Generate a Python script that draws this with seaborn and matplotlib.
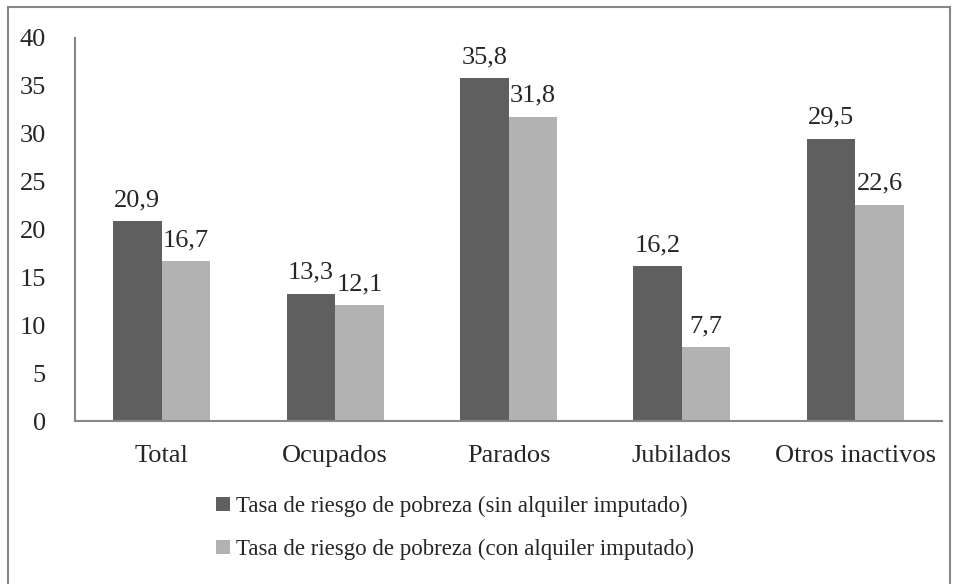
import matplotlib
matplotlib.use("Agg")
import matplotlib.pyplot as plt
import seaborn as sns
import pandas as pd
from matplotlib.patches import Rectangle, Patch

categories = ["Total", "Ocupados", "Parados", "Jubilados", "Otros inactivos"]
sin_alquiler = [20.9, 13.3, 35.8, 16.2, 29.5]
con_alquiler = [16.7, 12.1, 31.8, 7.7, 22.6]
series = ["Tasa de riesgo de pobreza (sin alquiler imputado)",
          "Tasa de riesgo de pobreza (con alquiler imputado)"]
colors = ["#5f5f5f", "#b2b2b2"]

df = pd.DataFrame({
    "cat": categories * 2,
    "val": sin_alquiler + con_alquiler,
    "serie": [series[0]] * 5 + [series[1]] * 5,
})

sns.set_style("white")
plt.rcParams["font.family"] = ["Liberation Serif", "DejaVu Serif"]
fs_tick = 19
fs_lab = 19
fs_leg = 16.5

fig = plt.figure(figsize=(9.58, 5.84), dpi=100)
ax = fig.add_axes([75/958, 1 - 421/584, (942-75)/958, (421-38)/584])
sns.barplot(data=df, x="cat", y="val", hue="serie", palette=colors,
            width=0.56, gap=0, ax=ax, legend=False, saturation=1,
            linewidth=0, edgecolor="none")

ax.set_ylim(0, 40)
ax.set_xlim(-0.5, 4.5)
ax.set_yticks(range(0, 41, 5))
ax.set_xticks([-0.5, 0.5, 1.5, 2.5, 3.5, 4.5], minor=False)
ax.set_xticklabels([])
ax.set_xticks(range(5), minor=True)
ax.set_xticklabels(categories, minor=True, fontsize=fs_tick)
ax.tick_params(axis="x", which="minor", length=0, pad=17)
ax.tick_params(axis="x", which="major", length=7, color="#878787", direction="out")
ax.tick_params(axis="y", length=7, color="#878787", direction="out", labelsize=fs_tick, pad=14)
ax.set_xlabel("")
ax.set_ylabel("")
for s in ["top", "right"]:
    ax.spines[s].set_visible(False)
for s in ["left", "bottom"]:
    ax.spines[s].set_color("#878787")
    ax.spines[s].set_linewidth(1.5)

for cont in ax.containers:
    ax.bar_label(cont, labels=[f"{v:.1f}".replace(".", ",") for v in cont.datavalues],
                 padding=7, fontsize=fs_lab)

handles = [Patch(facecolor=c, edgecolor="none") for c in colors]
fig.legend(handles, series, loc="center", bbox_to_anchor=(455/958, 1 - 528/584),
           ncol=1, frameon=False, fontsize=fs_leg, handlelength=0.62, handleheight=0.62,
           handletextpad=0.25, labelspacing=0.95)

fig.add_artist(Rectangle((8/958, -0.05), 942/958, 1.05 - 7/584, transform=fig.transFigure,
                         fill=False, edgecolor="#878787", linewidth=1.5))

fig.savefig("out.png", dpi=100)
